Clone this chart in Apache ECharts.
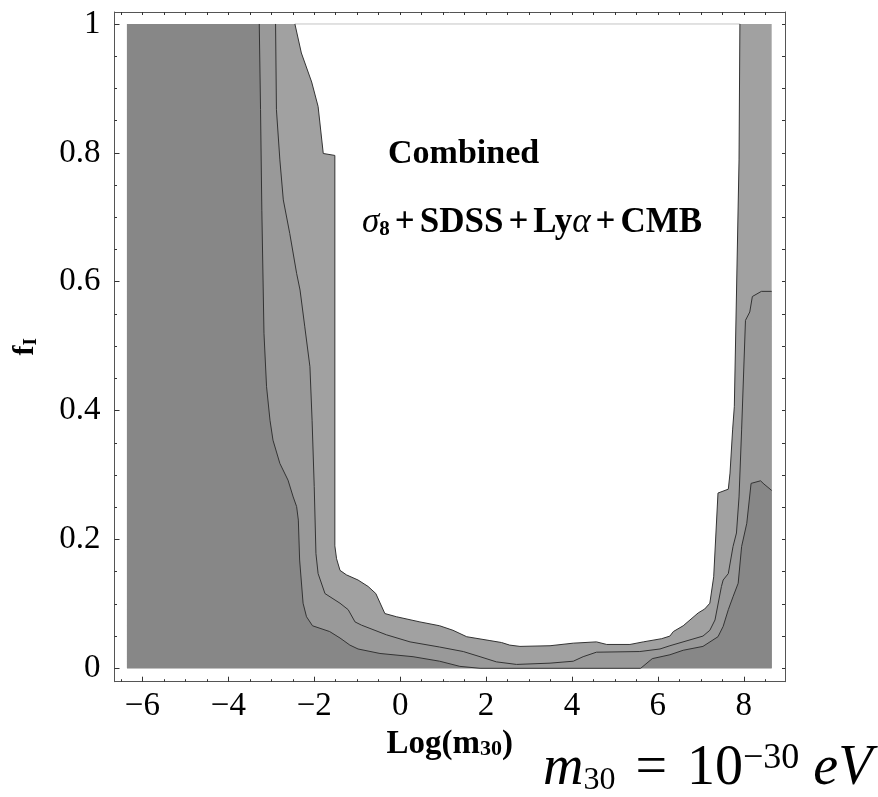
<!DOCTYPE html>
<html>
<head>
<meta charset="utf-8">
<script src="https://cdn.jsdelivr.net/npm/echarts@6/dist/echarts.min.js"></script>
<style>
  html, body { margin: 0; padding: 0; background: #fff; }
  #main { width: 878px; height: 797px; }
</style>
</head>
<body>
<div id="main"></div>
<script>
// extent of the computed grid (Log m30, f_I)
var massRange = [-6.36, 8.65];
var fracTop = 1;

// outer contour (edge of the allowed white region)
var outerCurve = [
    [-2.45, 1.0], [-2.30, 0.955], [-2.06, 0.910], [-1.91, 0.872], [-1.79, 0.799],
    [-1.52, 0.796], [-1.52, 0.190], [-1.48, 0.170], [-1.40, 0.152], [-1.25, 0.145],
    [-0.98, 0.137], [-0.745, 0.127], [-0.566, 0.116], [-0.356, 0.085], [-0.084, 0.080],
    [0.46, 0.072], [0.92, 0.066], [1.23, 0.059], [1.55, 0.049], [2.09, 0.043],
    [2.36, 0.040], [2.55, 0.036], [2.79, 0.034], [3.49, 0.035], [4.03, 0.039],
    [4.57, 0.041], [4.81, 0.037], [5.35, 0.037], [5.66, 0.041], [6.09, 0.046],
    [6.28, 0.050], [6.36, 0.057], [6.59, 0.066], [6.94, 0.086], [7.09, 0.092],
    [7.21, 0.101], [7.30, 0.142], [7.40, 0.272], [7.64, 0.278], [7.68, 0.303],
    [7.74, 0.370], [7.78, 0.406], [7.89, 0.789], [7.91, 1.0]
];

// middle contour
var middleCurve = [
    [-2.90, 1.0], [-2.88, 0.867], [-2.80, 0.789], [-2.72, 0.727], [-2.57, 0.675],
    [-2.41, 0.613], [-2.33, 0.587], [-2.22, 0.530], [-2.10, 0.468], [-2.05, 0.385],
    [-2.00, 0.282], [-1.96, 0.178], [-1.91, 0.147], [-1.75, 0.116], [-1.40, 0.101],
    [-1.21, 0.091], [-1.05, 0.072], [-0.90, 0.067], [-0.32, 0.052], [0.23, 0.041],
    [0.92, 0.033], [1.47, 0.026], [1.86, 0.018], [2.24, 0.010], [2.71, 0.006],
    [3.49, 0.008], [4.03, 0.011], [4.26, 0.018], [4.57, 0.025], [5.58, 0.026],
    [6.05, 0.030], [6.28, 0.035], [7.05, 0.050], [7.21, 0.059], [7.33, 0.075],
    [7.48, 0.127], [7.52, 0.137], [7.64, 0.147], [7.75, 0.189], [7.83, 0.210],
    [7.89, 0.266], [7.95, 0.370], [8.04, 0.540], [8.14, 0.553], [8.20, 0.577],
    [8.41, 0.585], [8.65, 0.585]
];

// inner contour
var innerCurve = [
    [-3.28, 1.0], [-3.25, 0.867], [-3.22, 0.711], [-3.17, 0.520], [-3.11, 0.437],
    [-3.03, 0.385], [-2.96, 0.354], [-2.80, 0.318], [-2.61, 0.292], [-2.49, 0.266],
    [-2.41, 0.251], [-2.37, 0.230], [-2.34, 0.168], [-2.26, 0.101], [-2.18, 0.080],
    [-2.04, 0.066], [-1.64, 0.057], [-1.40, 0.047], [-1.17, 0.036], [-0.98, 0.030],
    [-0.47, 0.023], [0.30, 0.018], [0.92, 0.011], [1.39, 0.003], [1.86, 0.0],
    [5.60, 0.0], [5.87, 0.015], [6.28, 0.021], [6.59, 0.028], [7.05, 0.034],
    [7.40, 0.049], [7.52, 0.065], [7.64, 0.091], [7.75, 0.111], [7.87, 0.132],
    [7.95, 0.189], [8.07, 0.225], [8.17, 0.287], [8.39, 0.291], [8.47, 0.286],
    [8.65, 0.276]
];

// ticks
var xMajorTicks = [-6, -4, -2, 0, 2, 4, 6, 8];
var xMinorTicks = [-6.5, -5.5, -5, -4.5, -3.5, -3, -2.5, -1.5, -1, -0.5, 0.5, 1, 1.5,
    2.5, 3, 3.5, 4.5, 5, 5.5, 6.5, 7, 7.5, 8.5];
var yMajorTicks = [0, 0.2, 0.4, 0.6, 0.8, 1];
var yMinorTicks = [0.05, 0.1, 0.15, 0.25, 0.3, 0.35, 0.45, 0.5, 0.55, 0.65, 0.7, 0.75,
    0.85, 0.9, 0.95];

var xAllTicks = xMajorTicks.concat(xMinorTicks).sort(function (a, b) { return a - b; });
var yAllTicks = yMajorTicks.concat(yMinorTicks).sort(function (a, b) { return a - b; });

var serif = '"Liberation Serif", "DejaVu Serif", serif';
var frameColor = '#555';
var xLim = [-6.65, 8.96];
var yLim = [-0.0208, 1.0186];

var chart = echarts.init(document.getElementById('main'), null, { renderer: 'canvas' });

function fillSeries(name, data, color) {
    return {
        name: name,
        type: 'line',
        data: data,
        symbol: 'none',
        silent: true,
        lineStyle: { opacity: 0 },
        areaStyle: { color: color, opacity: 1 }
    };
}

function contourSeries(name, data, color) {
    return {
        name: name,
        type: 'line',
        data: data,
        symbol: 'none',
        silent: true,
        lineStyle: { color: color, width: 1 }
    };
}

function xAxisBase(pos, ticks, len, showLine) {
    return {
        type: 'value',
        position: pos,
        min: xLim[0],
        max: xLim[1],
        axisLine: { show: showLine, onZero: false, lineStyle: { color: frameColor, width: 1 } },
        axisTick: { show: true, inside: true, length: len, customValues: ticks,
            lineStyle: { color: '#333', width: 1 } },
        axisLabel: { show: false },
        splitLine: { show: false }
    };
}

function yAxisBase(pos, ticks, len, showLine) {
    return {
        type: 'value',
        position: pos,
        min: yLim[0],
        max: yLim[1],
        axisLine: { show: showLine, onZero: false, lineStyle: { color: frameColor, width: 1 } },
        axisTick: { show: true, inside: true, length: len, customValues: ticks,
            lineStyle: { color: '#333', width: 1 } },
        axisLabel: { show: false },
        splitLine: { show: false }
    };
}

var xBottom = xAxisBase('bottom', xMajorTicks, 5, true);
xBottom.axisLabel = {
    show: true,
    customValues: xMajorTicks,
    margin: 8,
    color: '#000',
    fontFamily: serif,
    fontSize: 33,
    formatter: function (v) { return v < 0 ? '\u2212' + Math.abs(v) : String(v); }
};
xBottom.name = '{b|Log(m}{s|30}{b|)}';
xBottom.nameLocation = 'middle';
xBottom.nameGap = 40;
xBottom.nameTextStyle = {
    rich: {
        b: { fontFamily: serif, fontWeight: 'bold', fontSize: 33, lineHeight: 33, color: '#000' },
        s: { fontFamily: serif, fontWeight: 'bold', fontSize: 22, lineHeight: 14, color: '#000',
             verticalAlign: 'bottom' }
    }
};

var yLeft = yAxisBase('left', yMajorTicks, 5, true);
yLeft.axisLabel = {
    show: true,
    customValues: yMajorTicks,
    margin: 14,
    color: '#000',
    fontFamily: serif,
    fontSize: 33,
    formatter: function (v) { return String(v); }
};
yLeft.name = '{b|f}{s|I}';
yLeft.nameLocation = 'middle';
yLeft.nameGap = 74;
yLeft.nameTextStyle = {
    rich: {
        b: { fontFamily: serif, fontWeight: 'bold', fontSize: 30, lineHeight: 30, color: '#000' },
        s: { fontFamily: serif, fontWeight: 'bold', fontSize: 19, lineHeight: 14, color: '#000',
             verticalAlign: 'bottom' }
    }
};

var option = {
    animation: false,
    backgroundColor: '#fff',
    grid: { left: 114.5, right: 93, top: 12, bottom: 115.3, outerBoundsMode: 'none' },
    xAxis: [
        xBottom,
        xAxisBase('bottom', xMinorTicks, 2.5, false),
        xAxisBase('top', xAllTicks, 3, true)
    ],
    yAxis: [
        yLeft,
        yAxisBase('left', yMinorTicks, 2.5, false),
        yAxisBase('right', yAllTicks, 3, true)
    ],
    series: [
        fillSeries('outer', [[massRange[0], fracTop]].concat(outerCurve, [[massRange[1], fracTop]]), '#a1a1a1'),
        fillSeries('middle', [[massRange[0], fracTop]].concat(middleCurve), '#999999'),
        fillSeries('inner', [[massRange[0], fracTop]].concat(innerCurve), '#878787'),
        contourSeries('top edge', [outerCurve[0], outerCurve[outerCurve.length - 1]], '#c4c4c4'),
        contourSeries('outer line', outerCurve, '#333'),
        contourSeries('middle line', middleCurve, '#333'),
        contourSeries('inner line', innerCurve, '#333')
    ],
    graphic: [
        {
            type: 'text',
            left: 388,
            top: 137,
            style: {
                text: 'Combined',
                font: 'bold 34px ' + serif,
                fill: '#000'
            }
        },
        {
            type: 'text',
            left: 362,
            top: 205,
            style: {
                text: '{s|\u03c3}{sub|8}{p|+}{b|SDSS}{p|+}{b|Ly}{s|\u03b1}{p|+}{b|CMB}',
                fill: '#000',
                rich: {
                    s: { fontFamily: serif, fontStyle: 'italic', fontSize: 35, lineHeight: 35 },
                    b: { fontFamily: serif, fontWeight: 'bold', fontSize: 35, lineHeight: 35 },
                    p: { fontFamily: serif, fontWeight: 'bold', fontSize: 35, lineHeight: 35,
                         padding: [0, 5, 0, 5] },
                    sub: { fontFamily: serif, fontWeight: 'bold', fontSize: 21, lineHeight: 23,
                           verticalAlign: 'bottom' }
                }
            }
        },
        {
            type: 'text',
            left: 543,
            top: 741,
            style: {
                text: '{i|m}{sb|30}{eq|=}{n|10}{sp|\u221230}{e|eV}',
                fill: '#000',
                rich: {
                    i: { fontFamily: serif, fontStyle: 'italic', fontSize: 56, lineHeight: 56 },
                    e: { fontFamily: serif, fontStyle: 'italic', fontSize: 56, lineHeight: 56,
                         padding: [0, 0, 0, 14] },
                    n: { fontFamily: serif, fontSize: 56, lineHeight: 56 },
                    eq: { fontFamily: serif, fontSize: 56, lineHeight: 56, padding: [0, 20, 0, 20] },
                    sb: { fontFamily: serif, fontSize: 32, lineHeight: 26, verticalAlign: 'bottom' },
                    sp: { fontFamily: serif, fontSize: 36, lineHeight: 24, verticalAlign: 'top' }
                }
            }
        }
    ]
};

chart.setOption(option);
</script>
</body>
</html>
